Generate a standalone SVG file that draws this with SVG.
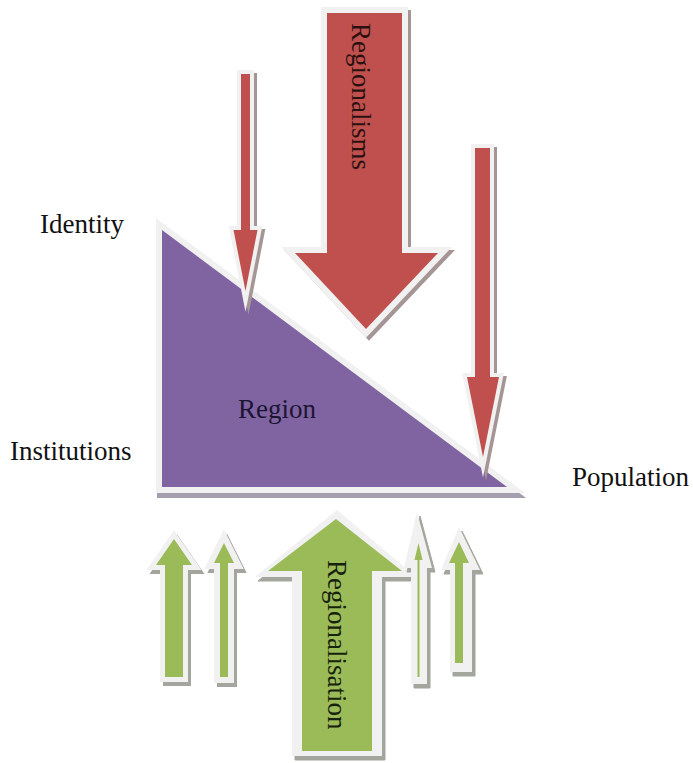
<svg xmlns="http://www.w3.org/2000/svg" width="693" height="763" viewBox="0 0 693 763">
  <style>
    .lbl { font-family: "Liberation Serif", "Times New Roman", serif; font-size: 27px; fill: #111; }
    .shadow { stroke-width: 10; stroke-linejoin: miter; stroke-miterlimit: 10; }
    .halo { fill: #f1f1f1; stroke: #f1f1f1; stroke-width: 10; stroke-linejoin: miter; stroke-miterlimit: 10; }
    .halo-only { fill: #f1f1f1; }
    .sh-purple { fill: #a59eae; stroke: #a59eae; }
    .sh-red { fill: #a69595; stroke: #a69595; }
    .sh-green { fill: #a2a69c; stroke: #a2a69c; }
    .purple { fill: #8064a2; }
    .red { fill: #c0504d; }
    .green { fill: #9bbb59; }
  </style>
  <defs>
    <path id="tri" d="M162 230 L507 487 H162 Z"/>
    <path id="down-small" d="M241 74 H250 V230 H257.5 L245.5 291 L233.5 230 H241 Z"/>
    <path id="down-big" d="M327 13 H402 V253 H438 L366 329 L295 253 H327 Z"/>
    <path id="down-right" d="M475 148 H490 V377 H499 L483 457 L467 377 H475 Z"/>
    <path id="up-a" d="M174 539 L192 565 H183 V677 H165 V565 H156 Z"/>
    <path id="up-b" d="M224 543 L234 563 H228 V677 H220 V563 H214 Z"/>
    <path id="up-big-back" d="M337 510 L416 577 H382 V756 H292 V577 H255 Z"/>
    <path id="up-big" d="M336 519 L402 571 H372 V751 H302 V571 H268 Z"/>
    <path id="up-d-back" d="M417 512 L432 568 H427 V684 H411 V568 H404 Z"/>
    <path id="up-d" d="M418.5 543 L422.5 560 H419.5 V677 H417.5 V560 H414.5 Z"/>
    <path id="up-e-back" d="M459 527 L480 570 H472 V672 H450 V570 H441 Z"/>
    <path id="up-e" d="M459 542 L469 563 H463 V663 H455 V563 H449 Z"/>
  </defs>

  <rect width="693" height="763" fill="#ffffff"/>

  <!-- region triangle -->
  <g id="region">
    <use href="#tri" class="shadow sh-purple" style="stroke-width:12" transform="translate(1,5)"/>
    <use href="#tri" class="halo" style="stroke-width:12"/>
    <use href="#tri" class="purple"/>
    <text class="lbl" x="238" y="418" style="fill:#1c1433">Region</text>
  </g>

  <!-- corner labels -->
  <g id="identity"><text class="lbl" x="40" y="233">Identity</text></g>
  <g id="institutions"><text class="lbl" x="10" y="460">Institutions</text></g>
  <g id="population"><text class="lbl" x="572" y="486">Population</text></g>

  <g id="connectors">
    <!-- downward pressures -->
    <g id="regionalisms">
      <use href="#down-small" class="shadow sh-red" style="stroke-width:8" transform="translate(3,3)"/>
      <use href="#down-small" class="halo" style="stroke-width:8"/>
      <use href="#down-small" class="red"/>

      <use href="#down-big" class="shadow sh-red" style="stroke-width:12" transform="translate(3,3)"/>
      <use href="#down-big" class="halo" style="stroke-width:12"/>
      <use href="#down-big" class="red"/>
      <text class="lbl" transform="translate(352,23) rotate(90)" style="fill:#2a1010">Regionalisms</text>

      <use href="#down-right" class="shadow sh-red" style="stroke-width:8" transform="translate(3,3)"/>
      <use href="#down-right" class="halo" style="stroke-width:8"/>
      <use href="#down-right" class="red"/>
    </g>

    <!-- upward pressures -->
    <g id="regionalisation">
      <use href="#up-a" class="shadow sh-green" transform="translate(3,4)"/>
      <use href="#up-a" class="halo"/>
      <use href="#up-a" class="green"/>

      <use href="#up-b" class="shadow sh-green" style="stroke-width:12" transform="translate(3,4)"/>
      <use href="#up-b" class="halo" style="stroke-width:12"/>
      <use href="#up-b" class="green"/>

      <use href="#up-big-back" class="sh-green" transform="translate(3,4)"/>
      <use href="#up-big-back" class="halo-only"/>
      <use href="#up-big" class="green"/>
      <text class="lbl" transform="translate(328,560) rotate(90)" style="fill:#16220c">Regionalisation</text>

      <use href="#up-d-back" class="sh-green" transform="translate(3,4)"/>
      <use href="#up-d-back" class="halo-only"/>
      <use href="#up-d" class="green"/>

      <use href="#up-e-back" class="sh-green" transform="translate(3,4)"/>
      <use href="#up-e-back" class="halo-only"/>
      <use href="#up-e" class="green"/>
    </g>
  </g>
</svg>
